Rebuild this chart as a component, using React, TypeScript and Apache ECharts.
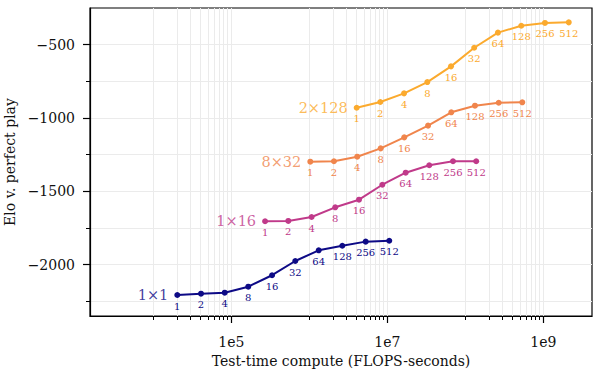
import React, { useEffect, useRef } from "react";
import * as echarts from "echarts";

const multipliers = ["1", "2", "4", "8", "16", "32", "64", "128", "256", "512"];
const seriesNames = ["1×1", "1×16", "8×32", "2×128"];
const seriesColors = ["#0d0a86", "#c03a8a", "#f0854c", "#fbaa2e"];

const compute1x1 = [2.03e4, 4.09e4, 8.23e4, 1.65e5, 3.33e5, 6.61e5, 1.32e6, 2.65e6, 5.28e6, 1.06e7];
const elo1x1 = [-2207, -2198, -2191, -2150, -2072, -1975, -1902, -1871, -1843, -1837];
const compute1x16 = [2.71e5, 5.38e5, 1.07e6, 2.15e6, 4.34e6, 8.63e6, 1.72e7, 3.45e7, 6.95e7, 1.38e8];
const elo1x16 = [-1704, -1702, -1675, -1609, -1557, -1455, -1373, -1322, -1295, -1295];
const compute8x32 = [1.03e6, 2.07e6, 4.12e6, 8.22e6, 1.65e7, 3.33e7, 6.61e7, 1.33e8, 2.68e8, 5.38e8];
const elo8x32 = [-1298, -1295, -1264, -1207, -1132, -1052, -961, -916, -896, -893];
const compute2x128 = [4.05e6, 8.13e6, 1.64e7, 3.26e7, 6.56e7, 1.3e8, 2.62e8, 5.22e8, 1.05e9, 2.12e9];
const elo2x128 = [-930, -891, -832, -755, -648, -521, -418, -371, -352, -348];

const xMajorTicks = [1e5, 1e7, 1e9];
const xMinorTicks = [
  1e4, 2e4, 3e4, 4e4, 5e4, 6e4, 7e4, 8e4, 9e4,
  1e6, 2e6, 3e6, 4e6, 5e6, 6e6, 7e6, 8e6, 9e6,
  1e8, 2e8, 3e8, 4e8, 5e8, 6e8, 7e8, 8e8, 9e8,
];
const yMajorTicks = [-2000, -1500, -1000, -500];
const yMinorTicks = [-2250, -1750, -1250, -750];

const xMin = 1543;
const xMax = 4.21e9;
const yMin = -2350;
const yMax = -250;

const FONT = "DejaVu Serif";
const GRID_COLOR = "#ebebeb";

export default function App() {
  const ref = useRef<HTMLDivElement>(null);

  useEffect(() => {
    document.body.style.margin = "0";
    if (!ref.current) return;
    const chart = echarts.init(ref.current, undefined, { renderer: "svg" });

    const xs = [compute1x1, compute1x16, compute8x32, compute2x128];
    const ys = [elo1x1, elo1x16, elo8x32, elo2x128];

    const series: any[] = [];
    seriesNames.forEach((name, i) => {
      const data = xs[i].map((x, j) => [x, ys[i][j]]);
      series.push({
        type: "line",
        name,
        data,
        xAxisIndex: 0,
        yAxisIndex: 0,
        symbol: "circle",
        symbolSize: 6,
        showSymbol: true,
        z: 5,
        lineStyle: { width: 2, color: seriesColors[i] },
        itemStyle: { color: seriesColors[i] },
        label: {
          show: true,
          position: "bottom",
          distance: 3,
          fontFamily: FONT,
          fontSize: 10,
          color: seriesColors[i],
          formatter: (p: any) => multipliers[p.dataIndex],
        },
      });
      series.push({
        type: "scatter",
        name: name + " label",
        data: [data[0]],
        xAxisIndex: 0,
        yAxisIndex: 0,
        symbolSize: 0,
        z: 5,
        label: {
          show: true,
          position: "left",
          distance: 9,
          fontFamily: FONT,
          fontSize: 14.5,
          color: seriesColors[i],
          formatter: () => name,
        },
      });
    });

    const minus = (v: number) => (v < 0 ? "\u2212" : "") + Math.abs(v);

    chart.setOption({
      animation: false,
      grid: {
        left: 90,
        right: 9,
        top: 8,
        bottom: 55,
        show: true,
        borderColor: "#000",
        borderWidth: 1.2,
        backgroundColor: "transparent",
        containLabel: false,
        outerBoundsMode: "none",
      },
      xAxis: [
        {
          type: "log",
          min: xMin,
          max: xMax,
          position: "bottom",
          name: "Test-time compute (FLOPS-seconds)",
          nameLocation: "middle",
          nameGap: 32,
          nameTextStyle: { fontFamily: FONT, fontSize: 14, color: "#111" },
          axisLine: { show: true, lineStyle: { color: "#000", width: 1.2 } },
          axisTick: {
            show: true,
            length: 7,
            inside: false,
            customValues: xMajorTicks,
            lineStyle: { color: "#000", width: 1.2 },
          },
          axisLabel: {
            show: true,
            customValues: xMajorTicks,
            margin: 19,
            fontFamily: FONT,
            fontSize: 14,
            color: "#111",
            formatter: (v: number) => "1e" + Math.round(Math.log10(v)),
          },
          splitLine: { show: true, lineStyle: { color: GRID_COLOR, width: 1 } },
          minorTick: { show: false },
        },
        {
          type: "log",
          min: xMin,
          max: xMax,
          position: "bottom",
          axisLine: { show: false },
          axisTick: {
            show: true,
            length: 4,
            inside: false,
            customValues: xMinorTicks,
            lineStyle: { color: "#000", width: 1 },
          },
          axisLabel: { show: false },
          splitLine: { show: true, lineStyle: { color: GRID_COLOR, width: 1 } },
        },
      ],
      yAxis: [
        {
          type: "value",
          min: yMin,
          max: yMax,
          name: "Elo v. perfect play",
          nameLocation: "middle",
          nameGap: 69,
          nameTextStyle: { fontFamily: FONT, fontSize: 14, color: "#111" },
          axisLine: { show: true, lineStyle: { color: "#000", width: 1.2 } },
          axisTick: {
            show: true,
            length: 7,
            inside: false,
            customValues: yMajorTicks,
            lineStyle: { color: "#000", width: 1.2 },
          },
          axisLabel: {
            show: true,
            customValues: yMajorTicks,
            margin: 15,
            fontFamily: FONT,
            fontSize: 14,
            color: "#111",
            formatter: minus,
          },
          splitLine: { show: true, lineStyle: { color: GRID_COLOR, width: 1 } },
        },
        {
          type: "value",
          min: yMin,
          max: yMax,
          position: "left",
          axisLine: { show: false },
          axisTick: {
            show: true,
            length: 4,
            inside: false,
            customValues: yMinorTicks,
            lineStyle: { color: "#000", width: 1 },
          },
          axisLabel: { show: false },
          splitLine: { show: true, lineStyle: { color: GRID_COLOR, width: 1 } },
        },
      ],
      series,
    });

    return () => chart.dispose();
  }, []);

  return <div ref={ref} style={{ width: 601, height: 371 }} />;
}
